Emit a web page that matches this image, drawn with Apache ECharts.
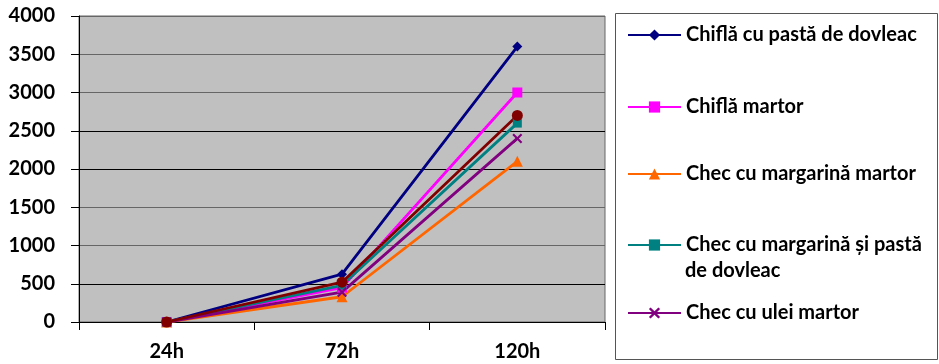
<!DOCTYPE html>
<html><head><meta charset="utf-8">
<script src="https://cdn.jsdelivr.net/npm/echarts@6/dist/echarts.min.js"></script>
<style>html,body{margin:0;padding:0;background:#fff}#c{width:939px;height:364px}</style>
</head><body><div id="c"></div>
<script>
const categories = ['24h', '72h', '120h'];
const yTicks = [0, 500, 1000, 1500, 2000, 2500, 3000, 3500, 4000];
const chiflaDovleac = [0, 625, 3600];
const chiflaMartor = [0, 450, 3000];
const checMargarinaMartor = [0, 330, 2100];
const checMargarinaDovleac = [0, 480, 2600];
const checUleiMartor = [0, 390, 2400];
const checUleiDovleac = [0, 520, 2700];

const names = ['Chiflă cu pastă de dovleac', 'Chiflă martor', 'Chec cu margarină martor',
  'Chec cu margarină și pastă de dovleac', 'Chec cu ulei martor', 'Chec cu ulei și pastă de dovleac'];
const FONT = 'Lato';
const FS = 20;
const X_PATH = 'path://M0,1.5L1.5,0L5,3.5L8.5,0L10,1.5L6.5,5L10,8.5L8.5,10L5,6.5L1.5,10L0,8.5L3.5,5Z';

function mk(name, data, color, symbol, size) {
  return { name, type: 'line', data, color, symbol, symbolSize: size, showSymbol: true,
    lineStyle: { width: 2.8, color }, itemStyle: { color }, z: 3 };
}
const series = [
  mk(names[0], chiflaDovleac, '#000080', 'diamond', 10),
  mk(names[1], chiflaMartor, '#FF00FF', 'rect', 10),
  mk(names[2], checMargarinaMartor, '#FF6600', 'triangle', 11),
  mk(names[3], checMargarinaDovleac, '#008080', 'rect', 9),
  mk(names[4], checUleiMartor, '#800080', X_PATH, 10),
  mk(names[5], checUleiDovleac, '#800000', 'circle', 11)
];

const legendTops = [25, 97, 164, 235, 303];
const legends = legendTops.map((t, i) => ({
  data: [names[i]], left: 627, top: t, padding: 0, itemWidth: 53, itemHeight: 14, itemGap: 0,
  formatter: i === 3 ? () => 'Chec cu margarină și pastă' : undefined,
  textStyle: { fontFamily: FONT, fontWeight: 'bold', fontSize: FS, color: '#000' },
  selectedMode: false
}));

const chart = echarts.init(document.getElementById('c'), null, { renderer: 'canvas' });
chart.setOption({
  animation: false,
  backgroundColor: '#fff',
  grid: { left: 79, right: 334, top: 16, bottom: 42, show: true, backgroundColor: '#C0C0C0', borderColor: '#666', borderWidth: 1 },
  legend: legends,
  graphic: [
    { type: 'rect', shape: { x: 615.5, y: 13.5, width: 322, height: 346 }, style: { fill: 'none', stroke: '#555', lineWidth: 1 }, z: -1 },
    { type: 'text', left: 685, top: 261, style: { text: 'de dovleac', font: 'bold ' + FS + 'px ' + FONT, fill: '#000' } }
  ],
  xAxis: {
    type: 'category', data: categories, boundaryGap: true,
    axisLine: { lineStyle: { color: '#000', width: 1 } },
    axisTick: { show: true, length: 8, lineStyle: { color: '#000' }, inside: false },
    axisLabel: { fontFamily: FONT, fontWeight: 'bold', fontSize: FS, color: '#000', margin: 20 },
    splitLine: { show: false }
  },
  yAxis: {
    type: 'value', min: yTicks[0], max: yTicks[yTicks.length - 1], interval: yTicks[1] - yTicks[0],
    axisLine: { show: true, lineStyle: { color: '#000', width: 1 } },
    axisTick: { show: true, length: 8, lineStyle: { color: '#000' } },
    axisLabel: { fontFamily: FONT, fontWeight: 'bold', fontSize: FS, color: '#000', margin: 24, formatter: v => String(v) },
    splitLine: { show: true, lineStyle: { color: ['#000', '#000', '#666', '#666', '#000', '#000', '#666', '#666', '#666'], width: 1 } }
  },
  series
});
</script></body></html>
